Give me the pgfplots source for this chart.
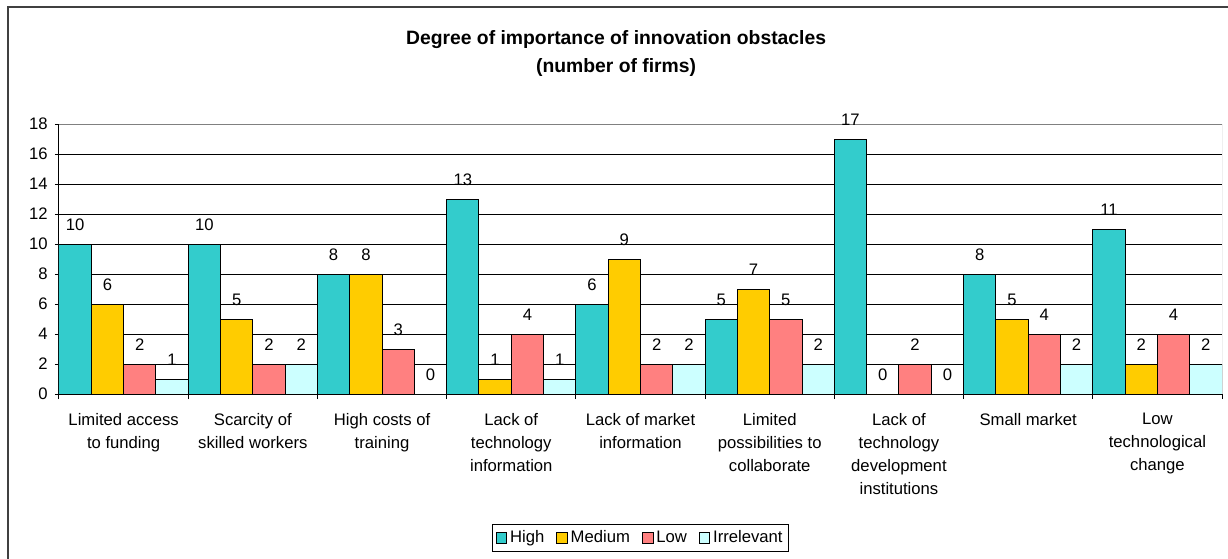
\documentclass[border=0pt]{standalone}
\usepackage{fontspec}
\setmainfont{Liberation Sans}
\usepackage{pgfplots}
\pgfplotsset{compat=1.18}
\definecolor{cHigh}{HTML}{33CCCC}
\definecolor{cMedium}{HTML}{FFCC00}
\definecolor{cLow}{HTML}{FF8080}
\definecolor{cIrr}{HTML}{CCFFFF}
\begin{document}
\begin{tikzpicture}
\useasboundingbox (-44.25pt,-123pt) rectangle (876.75pt,295.5pt);
% outer chart frame (only top and left edges are in view)
\draw[line width=1.5pt, black!75] (-38.25pt,-130pt) -- (-38.25pt,290.25pt) -- (885pt,290.25pt);
\begin{axis}[
    at={(0pt,0pt)}, anchor=south west,
    width=872.25pt, height=202.5pt, scale only axis,
    ybar, bar width=0.25,
    xmin=-0.5, xmax=8.5, ymin=0, ymax=18,
    enlargelimits=false,
    axis lines*=left,
    axis line style={black, line width=0.75pt},
    tick align=outside,
    major tick length=3pt, minor tick length=3.75pt,
    tick style={black, line width=0.75pt},
    xtick={0,...,8},
    major x tick style={draw=none},
    minor xtick={-0.5,0.5,...,8.5},
    ytick={0,2,...,18},
    ymajorgrids, major grid style={black, line width=0.6pt},
    /pgf/number format/assume math mode=true,
    tick label style={font=\fontsize{12.5}{14}\selectfont},
    yticklabel style={xshift=-2pt},
    xticklabel style={align=center, font=\fontsize{12.5}{17.25}\selectfont, yshift=-8pt},
    xticklabels={
      {Limited access\\to funding},
      {Scarcity of\\skilled workers},
      {High costs of\\training},
      {Lack of\\technology\\information},
      {Lack of market\\information},
      {Limited\\possibilities to\\collaborate},
      {Lack of\\technology\\development\\institutions},
      {Small market},
      {Low\\technological\\change}},
    nodes near coords,
    nodes near coords style={font=\fontsize{12.5}{14}\selectfont, anchor=center, yshift=14.25pt},
    title={Degree of importance of innovation obstacles\\(number of firms)},
    title style={align=center, font=\bfseries\fontsize{14.5}{21}\selectfont, at={(0.479,1)}, anchor=center, yshift=47pt},
    legend columns=-1,
    legend style={at={(0.5,0)}, anchor=center, yshift=-108pt, draw=black, line width=0.75pt,
      font=\fontsize{12.5}{14}\selectfont, inner sep=2.5pt,
      nodes={text height=9pt, text depth=2.5pt},
      /tikz/every even column/.append style={column sep=7pt}},
    legend image code/.code={\draw[#1, line width=0.75pt] (0pt,-4pt) rectangle (8pt,4pt);},
]
\addplot[fill=cHigh, draw=black, line width=0.75pt, bar shift=-0.375] coordinates {
  (0,10) (1,10) (2,8) (3,13) (4,6) (5,5) (6,17) (7,8) (8,11)};
\addplot[fill=cMedium, draw=black, line width=0.75pt, bar shift=-0.125] coordinates {
  (0,6) (1,5) (2,8) (3,1) (4,9) (5,7) (6,0) (7,5) (8,2)};
\addplot[fill=cLow, draw=black, line width=0.75pt, bar shift=0.125] coordinates {
  (0,2) (1,2) (2,3) (3,4) (4,2) (5,5) (6,2) (7,4) (8,4)};
\addplot[fill=cIrr, draw=black, line width=0.75pt, bar shift=0.375] coordinates {
  (0,1) (1,2) (2,0) (3,1) (4,2) (5,2) (6,0) (7,2) (8,2)};
\legend{High, Medium, Low, Irrelevant}
\draw[gray, line width=0.75pt] (rel axis cs:0,1) -- (rel axis cs:1,1) -- (rel axis cs:1,0);
\end{axis}
\end{tikzpicture}
\end{document}
